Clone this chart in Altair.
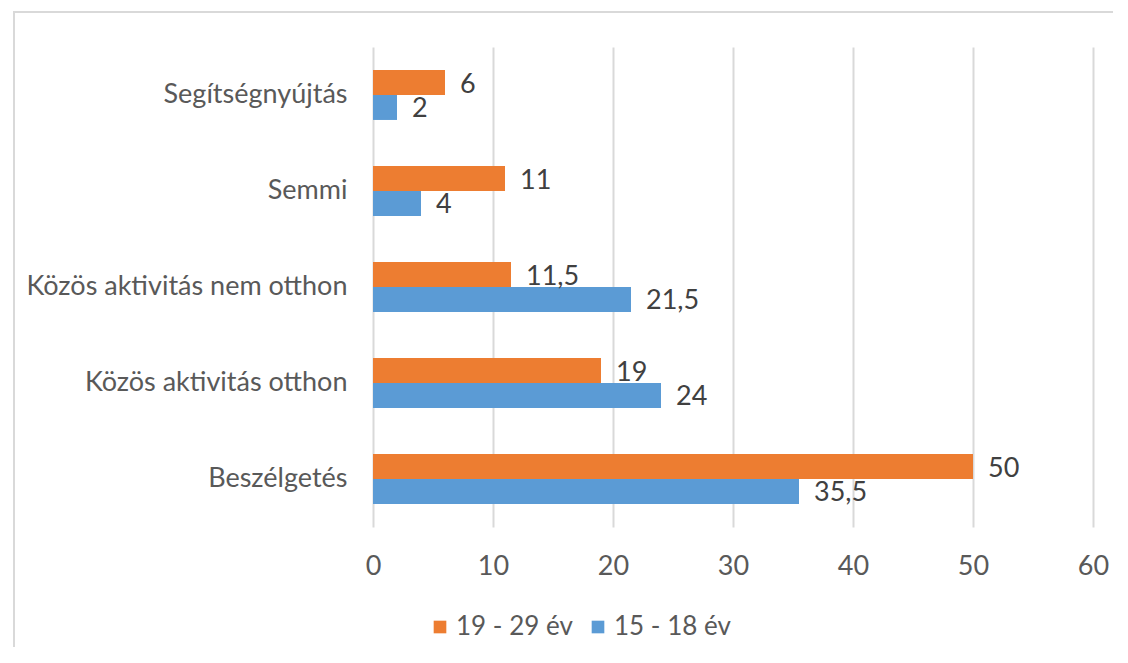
import altair as alt
import pandas as pd

categories = ["Segítségnyújtás", "Semmi", "Közös aktivitás nem otthon", "Közös aktivitás otthon", "Beszélgetés"]
series = ["19 - 29 év", "15 - 18 év"]
values_19_29 = [6, 11, 11.5, 19, 50]
values_15_18 = [2, 4, 21.5, 24, 35.5]
x_ticks = [0, 10, 20, 30, 40, 50, 60]

rows = []
for c, a, b in zip(categories, values_19_29, values_15_18):
    rows.append({"cat": c, "series": series[0], "value": a})
    rows.append({"cat": c, "series": series[1], "value": b})
df = pd.DataFrame(rows)

FONT = "Lato, sans-serif"
FS = 27
colors = ["#ED7D31", "#5B9BD5"]

base = alt.Chart(df).encode(
    y=alt.Y("cat:N", sort=categories, title=None,
            scale=alt.Scale(paddingInner=0.48, paddingOuter=0.24),
            axis=alt.Axis(labelFontSize=FS, labelColor="#595959", labelFont=FONT,
                          ticks=False, domain=False, labelPadding=26, grid=False,
                          labelLimit=400)),
    yOffset=alt.YOffset("series:N", sort=series),
)

bars = base.mark_bar().encode(
    x=alt.X("value:Q", title=None,
            scale=alt.Scale(domain=[0, 60], nice=False),
            axis=alt.Axis(values=x_ticks, labelFontSize=FS, labelColor="#595959", labelFont=FONT,
                          ticks=False, domain=False, labelPadding=26, labelFlush=False,
                          grid=True, gridColor="#d9d9d9", gridWidth=2)),
    color=alt.Color("series:N", sort=series,
                    scale=alt.Scale(domain=series, range=colors),
                    legend=alt.Legend(title=None, orient="none", direction="horizontal",
                                      legendX=54, legendY=567,
                                      symbolType="square", symbolSize=160, symbolStrokeWidth=0,
                                      labelFontSize=26, labelColor="#595959", labelFont=FONT,
                                      columnPadding=12, labelOffset=3)),
)

labels = base.transform_calculate(
    lbl="replace(format(datum.value, ''), '.', ',')"
).mark_text(align="left", baseline="middle", dx=15, dy=2, fontSize=FS,
            font=FONT, color="#404040").encode(
    x="value:Q",
    text="lbl:N",
)

frame = alt.Chart(df).mark_rect(fill=None, stroke="#d9d9d9", strokeWidth=2).encode(
    x=alt.value(-359), x2=alt.value(760), y=alt.value(-35), y2=alt.value(660)
).transform_filter("datum.cat == 'Semmi' && datum.series == '19 - 29 év'")

chart = alt.layer(frame, bars, labels).properties(
    width=720, height=480,
    padding={"left": 365, "top": 39, "right": 20, "bottom": 120},
    autosize=alt.AutoSizeParams(type="none"),
).configure_view(stroke=None)

chart.save("out.html", embed_options={"renderer": "svg", "actions": False})
